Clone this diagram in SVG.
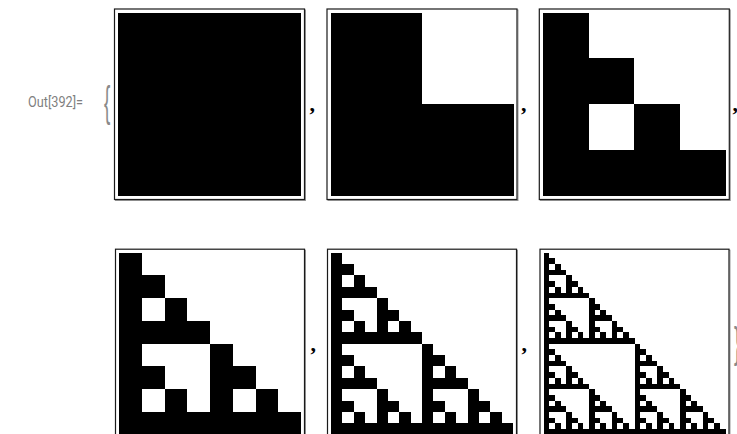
<svg xmlns="http://www.w3.org/2000/svg" width="737" height="434" viewBox="0 0 737 434">
<style>
.frame{fill:#fff;stroke:#1a1a1a;stroke-width:1.2}
.shadow{fill:none;stroke:#9a9a9a;stroke-width:1}
.img{fill:#000;shape-rendering:crispEdges}
.lbl{font-family:Roboto,"Liberation Sans",sans-serif;font-size:14px;fill:#7f7f7f}
.brace{font-family:"Liberation Sans",Arial,sans-serif;font-size:42px;fill:#8a8a8a}
.comma{font-family:"Liberation Serif","Times New Roman",serif;font-weight:bold;font-size:22px;fill:#000}
</style>
<defs>
<rect id="s0" width="1" height="1"/>
<g id="s1"><use href="#s0" transform="scale(0.5)"/><use href="#s0" transform="translate(0 0.5) scale(0.5)"/><use href="#s0" transform="translate(0.5 0.5) scale(0.5)"/></g>
<g id="s2"><use href="#s1" transform="scale(0.5)"/><use href="#s1" transform="translate(0 0.5) scale(0.5)"/><use href="#s1" transform="translate(0.5 0.5) scale(0.5)"/></g>
<g id="s3"><use href="#s2" transform="scale(0.5)"/><use href="#s2" transform="translate(0 0.5) scale(0.5)"/><use href="#s2" transform="translate(0.5 0.5) scale(0.5)"/></g>
<g id="s4"><use href="#s3" transform="scale(0.5)"/><use href="#s3" transform="translate(0 0.5) scale(0.5)"/><use href="#s3" transform="translate(0.5 0.5) scale(0.5)"/></g>
<g id="s5"><use href="#s4" transform="scale(0.5)"/><use href="#s4" transform="translate(0 0.5) scale(0.5)"/><use href="#s4" transform="translate(0.5 0.5) scale(0.5)"/></g>
</defs>
<rect width="737" height="434" fill="#fff"/>
<g id="label">
<text class="lbl" x="28" y="107" textLength="55" lengthAdjust="spacingAndGlyphs">Out[392]=</text>
<text class="brace" transform="translate(104 116) scale(0.45 1)">{</text>
</g>
<g id="level0">
<rect class="shadow" x="115.5" y="10" width="190" height="190.5"/>
<rect class="frame" x="114.5" y="9" width="190" height="190.5"/>
<rect class="img" x="118" y="12.5" width="183" height="183.5"/>
</g>
<g id="level1">
<rect class="shadow" x="328" y="10" width="190" height="190.5"/>
<rect class="frame" x="327" y="9" width="190" height="190.5"/>
<use href="#s1" class="img" transform="translate(330.5 12.5) scale(183 183.5)"/>
</g>
<g id="level2">
<rect class="shadow" x="540.3" y="10" width="190" height="190.5"/>
<rect class="frame" x="539.3" y="9" width="190" height="190.5"/>
<use href="#s2" class="img" transform="translate(542.8 12.5) scale(183 183.5)"/>
</g>
<g id="level3">
<rect class="shadow" x="116.5" y="250.2" width="189" height="189"/>
<rect class="frame" x="115.5" y="249.2" width="189" height="189"/>
<use href="#s3" class="img" transform="translate(119 252.7) scale(182 182)"/>
</g>
<g id="level4">
<rect class="shadow" x="328.5" y="250.2" width="189" height="189"/>
<rect class="frame" x="327.5" y="249.2" width="189" height="189"/>
<use href="#s4" class="img" transform="translate(331 252.7) scale(182 182)"/>
</g>
<g id="level5">
<rect class="shadow" x="541" y="250.2" width="189" height="189"/>
<rect class="frame" x="540" y="249.2" width="189" height="189"/>
<use href="#s5" class="img" transform="translate(543.5 252.7) scale(182 182)"/>
</g>
<g id="separators">
<text class="comma" x="309.5" y="110.5">,</text>
<text class="comma" x="521" y="110.5">,</text>
<text class="comma" x="732.5" y="110.5">,</text>
<text class="comma" x="310.5" y="350.5">,</text>
<text class="comma" x="521.5" y="350.5">,</text>
<text class="brace" transform="translate(734 357) scale(0.45 1)">}</text>
</g>
</svg>
